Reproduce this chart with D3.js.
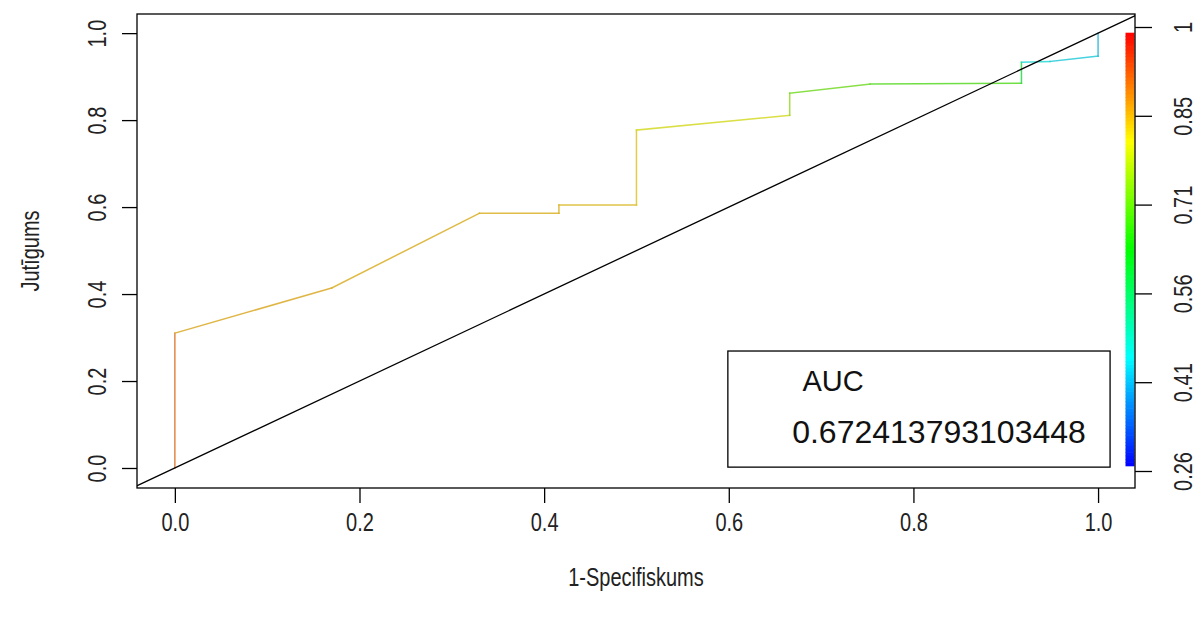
<!DOCTYPE html>
<html>
<head>
<meta charset="utf-8">
<script src="https://cdn.jsdelivr.net/npm/d3@7/dist/d3.min.js"></script>
<style>
  body { margin: 0; background: #fff; }
  svg { font-family: "Liberation Sans", Arial, sans-serif; }
</style>
</head>
<body>
<svg id="chart" width="1198" height="617"></svg>
<script>
// ROC points: false positive rate, true positive rate, cutoff at each point
const fpr    = [0, 0, 0.170, 0.330, 0.416, 0.416, 0.5, 0.5, 0.666, 0.666, 0.753, 0.917, 0.917, 0.948, 1.0, 1.0];
const tpr    = [0, 0.31, 0.414, 0.586, 0.586, 0.605, 0.605, 0.777, 0.811, 0.862, 0.883, 0.885, 0.933, 0.935, 0.947, 1.0];
const cutoff = [0.92, 0.865, 0.86, 0.855, 0.855, 0.85, 0.835, 0.81, 0.75, 0.71, 0.68, 0.60, 0.45, 0.43, 0.41, 0.26];

const xTicks = [0, 0.2, 0.4, 0.6, 0.8, 1.0];
const yTicks = [0, 0.2, 0.4, 0.6, 0.8, 1.0];
const cbTicks = [0.26, 0.408, 0.556, 0.704, 0.852, 1];
const cbLabels = ["0.26", "0.41", "0.56", "0.71", "0.85", "1"];
const aucLabel = "AUC";
const aucValue = "0.672413793103448";

const svg = d3.select('#chart');
const pLeft = 137, pRight = 1135, pTop = 14, pBottom = 488;

const x = d3.scaleLinear().domain([-0.041, 1.04]).range([pLeft, pRight]);
const y = d3.scaleLinear().domain([-0.046, 1.044]).range([pBottom, pTop]);

// colour of a cutoff: rainbow from blue (low) to red (high)
const cutMin = 0.26, cutMax = 1;
const colorOf = v => d3.hsl(240 * (1 - (v - cutMin) / (cutMax - cutMin)), 1, 0.5).toString();
// thin curve lines look muted in the original
const lineColor = v => d3.interpolateRgb(colorOf(v), '#808080')(0.3);

svg.append('defs').append('clipPath').attr('id', 'clip')
  .append('rect').attr('x', pLeft).attr('y', pTop).attr('width', pRight - pLeft).attr('height', pBottom - pTop);

// curve segments
const pts = fpr.map((d, i) => ({ x: d, y: tpr[i], c: cutoff[i] }));
svg.append('g').selectAll('line')
  .data(pts.slice(0, -1))
  .enter()
  .append('line')
  .attr('x1', (d) => x(d.x))
  .attr('y1', (d) => y(d.y))
  .attr('x2', (d, i) => x(pts[i + 1].x))
  .attr('y2', (d, i) => y(pts[i + 1].y))
  .attr('stroke', d => lineColor(d.c))
  .attr('stroke-opacity', 0.85)
  .attr('stroke-width', 1.5)
  .attr('stroke-linecap', 'square');

// diagonal
svg.append('line')
  .attr('clip-path', 'url(#clip)')
  .attr('x1', x(-0.1)).attr('y1', y(-0.1))
  .attr('x2', x(1.1)).attr('y2', y(1.1))
  .attr('stroke', '#000').attr('stroke-width', 1.3);

// colour bar
const cbBar = d3.scaleLinear().domain([cutMin, cutMax]).range([466, 33]);
const steps = d3.range(0, 128).map(i => cutMin + (cutMax - cutMin) * i / 128);
const stepH = Math.abs(cbBar(steps[1]) - cbBar(steps[0]));
svg.append('g').selectAll('rect')
  .data(steps)
  .enter()
  .append('rect')
  .attr('x', 1125.5)
  .attr('width', 9)
  .attr('y', d => cbBar(d) - stepH - 0.3)
  .attr('height', stepH + 0.6)
  .attr('fill', d => colorOf(d + (cutMax - cutMin) / 256));

// plot box
svg.append('rect')
  .attr('x', pLeft).attr('y', pTop)
  .attr('width', pRight - pLeft).attr('height', pBottom - pTop)
  .attr('fill', 'none').attr('stroke', '#000').attr('stroke-width', 1.3);

// axes
const xAxis = svg.append('g')
  .attr('transform', `translate(0,${pBottom})`)
  .call(d3.axisBottom(x).tickValues(xTicks).tickSize(15).tickFormat(d3.format('.1f')));

const yAxis = svg.append('g')
  .attr('transform', `translate(${pLeft},0)`)
  .call(d3.axisLeft(y).tickValues(yTicks).tickSize(15).tickFormat(d3.format('.1f')));

const cbScale = d3.scaleLinear().domain([cutMin, cutMax]).range([471, 27]);
const cbAxis = svg.append('g')
  .attr('transform', `translate(${pRight},0)`)
  .call(d3.axisRight(cbScale).tickValues(cbTicks).tickSize(17).tickFormat((d, i) => cbLabels[i]));

// the original labels use a narrow face: full size, squeezed along the text
const labelSize = '25px', squeeze = 'scale(0.8,1)';

[xAxis, yAxis, cbAxis].forEach(g => {
  g.select('.domain').remove();
  g.selectAll('.tick line').attr('stroke', '#000').attr('stroke-width', 1.3);
  g.selectAll('text').attr('fill', '#222').style('font-size', labelSize).style('font-family', '"Liberation Sans", Arial, sans-serif');
});

xAxis.selectAll('text')
  .attr('y', 43).attr('dy', null)
  .attr('transform', squeeze);

yAxis.selectAll('text')
  .attr('x', null).attr('dy', null)
  .attr('text-anchor', 'middle')
  .attr('transform', `translate(-40,0) rotate(-90) translate(0,9) ${squeeze}`);

cbAxis.selectAll('text')
  .attr('x', null).attr('dy', null)
  .attr('text-anchor', 'middle')
  .attr('transform', `translate(48,0) rotate(-90) translate(0,9) ${squeeze}`);

// axis titles
svg.append('text')
  .attr('transform', `translate(636,586) ${squeeze}`)
  .attr('text-anchor', 'middle').attr('fill', '#222')
  .style('font-size', labelSize)
  .text('1-Specifiskums');

svg.append('text')
  .attr('transform', `translate(39,${(pTop + pBottom) / 2}) rotate(-90) ${squeeze}`)
  .attr('text-anchor', 'middle').attr('fill', '#222')
  .style('font-size', labelSize)
  .text('Jutīgums');

// AUC legend box
const lg = svg.append('g');
lg.append('rect')
  .attr('x', x(0.599)).attr('y', y(0.269))
  .attr('width', x(1.013) - x(0.599)).attr('height', y(0.002) - y(0.269))
  .attr('fill', '#fff').attr('stroke', '#000').attr('stroke-width', 1.3);
lg.append('text')
  .attr('x', 833).attr('y', y(0.2) + 10)
  .attr('text-anchor', 'middle').attr('fill', '#111')
  .style('font-size', '29px')
  .text(aucLabel);
lg.append('text')
  .attr('x', 939).attr('y', y(0.083) + 11)
  .attr('text-anchor', 'middle').attr('fill', '#111')
  .style('font-size', '32px')
  .text(aucValue);
</script>
</body>
</html>
